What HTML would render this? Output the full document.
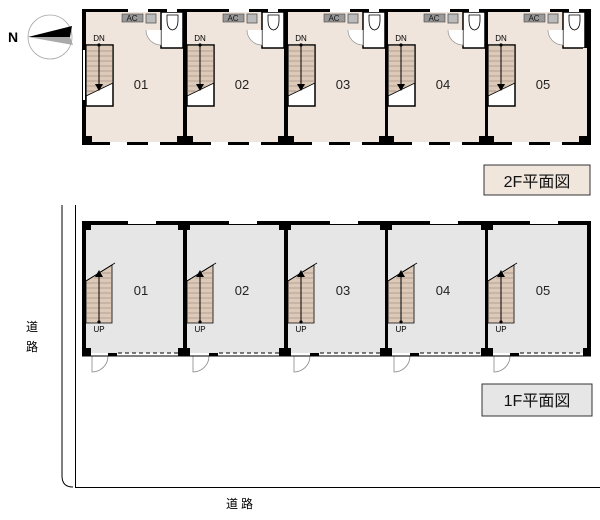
<!DOCTYPE html>
<html><head><meta charset="utf-8"><style>
html,body{margin:0;padding:0;background:#fff;}
svg{display:block;}
text{font-family:"Liberation Sans","Noto Sans CJK JP",sans-serif;}
</style></head><body>
<svg width="600" height="520" viewBox="0 0 600 520" xmlns="http://www.w3.org/2000/svg">
<defs>
<g id="u2">
  <rect x="86" y="12" width="97" height="130" fill="#f0e5dc"/>
  <rect x="161" y="12" width="22" height="36" fill="#fff" stroke="#000" stroke-width="1.5"/>
  <path d="M167 15 h11 v5 q0 9 -5.5 10 q-5.5 -1 -5.5 -10 z" fill="#fff" stroke="#000" stroke-width="0.8"/>
  <rect x="122" y="14" width="21" height="8" fill="#999" stroke="#444" stroke-width="0.6"/>
  <rect x="146" y="14" width="10" height="9" fill="#bbb" stroke="#555" stroke-width="0.8"/>
  <path d="M146 30 A15 15 0 0 0 161 45 L161 30" fill="#fff" stroke="#999" stroke-width="0.8"/>
  <rect x="86" y="45" width="27" height="61" fill="#fff" stroke="#000" stroke-width="1.5"/>
  <path d="M86.7 45.7 H112.3 V83 L86.7 96 Z" fill="#dcc9b8"/>
  <g stroke="#8a7a6c" stroke-width="0.6">
    <line x1="87" y1="51" x2="112" y2="51"/><line x1="87" y1="56" x2="112" y2="56"/>
    <line x1="87" y1="61" x2="112" y2="61"/><line x1="87" y1="66" x2="112" y2="66"/>
    <line x1="87" y1="71" x2="112" y2="71"/><line x1="87" y1="76" x2="112" y2="76"/>
    <line x1="87" y1="81" x2="112" y2="81"/><line x1="87" y1="86" x2="104" y2="86"/>
    <line x1="87" y1="91" x2="94" y2="91"/>
  </g>
  <line x1="86" y1="96" x2="113" y2="83" stroke="#000" stroke-width="0.8"/>
  <line x1="99" y1="45" x2="99" y2="86" stroke="#000" stroke-width="1"/>
  <circle cx="99" cy="45" r="1.6"/>
  <path d="M95 84 L103 84 L99 91 Z"/>
  <rect x="86" y="136" width="6" height="6"/>
  <rect x="177" y="136" width="6" height="6"/>
  <rect x="128" y="9" width="20" height="3" fill="#fff"/>
  <rect x="167" y="9" width="10" height="3" fill="#fff"/>
  <rect x="110" y="142" width="17" height="3" fill="#fff"/>
  <rect x="148" y="142" width="12" height="3" fill="#fff"/>
</g>
<g id="u1">
  <rect x="86" y="225" width="97" height="128" fill="#e6e6e6"/>
  <path d="M86 281 L112 265 V323 H86 Z" fill="#dcc9b8" stroke="#000" stroke-width="0.8"/>
  <line x1="86" y1="281" x2="115" y2="263" stroke="#000" stroke-width="0.8"/>
  <g stroke="#8a7a6c" stroke-width="0.6">
    <line x1="87" y1="283" x2="112" y2="283"/><line x1="87" y1="288" x2="112" y2="288"/>
    <line x1="87" y1="293" x2="112" y2="293"/><line x1="87" y1="298" x2="112" y2="298"/>
    <line x1="87" y1="303" x2="112" y2="303"/><line x1="87" y1="308" x2="112" y2="308"/>
    <line x1="87" y1="313" x2="112" y2="313"/><line x1="87" y1="318" x2="112" y2="318"/>
    <line x1="94" y1="278" x2="112" y2="278"/><line x1="102" y1="273" x2="112" y2="273"/>
  </g>
  <line x1="99" y1="323" x2="99" y2="275" stroke="#000" stroke-width="1"/>
  <circle cx="99" cy="322" r="1.6"/>
  <path d="M95 277 L103 277 L99 270 Z"/>
  <path d="M92 356 V372 A16 16 0 0 0 108 356" fill="none" stroke="#888" stroke-width="0.8"/>
  <rect x="128" y="221" width="28" height="3" fill="#fff"/>
</g>
</defs>

<circle cx="50" cy="37" r="22" fill="#fff" stroke="#aaa" stroke-width="0.8"/>
<path d="M28 37 L72 26 L70 37 Z" fill="#000"/>
<path d="M28 37 L70 37 L73 45 Z" fill="#aaa"/>
<text x="13" y="42" font-size="14" font-weight="bold" text-anchor="middle">N</text>

<rect x="82" y="9" width="509" height="136" fill="#000"/>
<rect x="580" y="50" width="7" height="86" fill="#f0e5dc"/>
<use href="#u2"/>
<use href="#u2" transform="translate(101,0)"/>
<use href="#u2" transform="translate(202,0)"/>
<use href="#u2" transform="translate(302,0)"/>
<use href="#u2" transform="translate(402,0)"/>
<rect x="583" y="48" width="4" height="88" fill="#f0e5dc"/>
<rect x="83" y="50" width="2" height="50" fill="#fff"/>
<g font-size="13" text-anchor="middle" fill="#222">
<text x="141" y="89">01</text><text x="242" y="89">02</text><text x="343" y="89">03</text><text x="443" y="89">04</text><text x="543" y="89">05</text>
</g>
<g font-size="8" text-anchor="middle" fill="#000">
<text x="99" y="41">DN</text><text x="200" y="41">DN</text><text x="301" y="41">DN</text><text x="401" y="41">DN</text><text x="501" y="41">DN</text>
</g>
<g font-size="8" text-anchor="middle" fill="#111">
<text x="132" y="21">AC</text><text x="233" y="21">AC</text><text x="334" y="21">AC</text><text x="434" y="21">AC</text><text x="534" y="21">AC</text>
</g>
<rect x="484" y="165" width="106" height="30" fill="#f0e6dc" stroke="#333" stroke-width="1"/>
<text x="537" y="187" font-size="16" text-anchor="middle" fill="#111">2F平面図</text>

<path d="M62 205 V476 Q62 487 73 487" fill="none" stroke="#000" stroke-width="1"/>
<line x1="75.5" y1="205" x2="75.5" y2="488" stroke="#000" stroke-width="1"/>
<line x1="75" y1="487.5" x2="600" y2="487.5" stroke="#000" stroke-width="1"/>

<rect x="82" y="221" width="509" height="135" fill="#000"/>
<use href="#u1"/>
<use href="#u1" transform="translate(101,0)"/>
<use href="#u1" transform="translate(202,0)"/>
<use href="#u1" transform="translate(302,0)"/>
<use href="#u1" transform="translate(402,0)"/>
<rect x="583" y="225" width="4" height="128" fill="#e6e6e6"/>
<rect x="86" y="353" width="505" height="3" fill="#fff"/>
<g stroke="#000" stroke-width="1" stroke-dasharray="4,3">
<line x1="118" y1="353" x2="183" y2="353"/><line x1="219" y1="353" x2="284" y2="353"/>
<line x1="320" y1="353" x2="385" y2="353"/><line x1="420" y1="353" x2="485" y2="353"/>
<line x1="520" y1="353" x2="586" y2="353"/>
</g>
<line x1="82" y1="356" x2="591" y2="356" stroke="#000" stroke-width="1"/>
<g fill="#000">
<rect x="82" y="221" width="9" height="9"/>
<rect x="178" y="221" width="12" height="9"/><rect x="279" y="221" width="12" height="9"/>
<rect x="380" y="221" width="12" height="9"/><rect x="481" y="221" width="12" height="9"/>
<rect x="82" y="348" width="9" height="8"/>
<rect x="178" y="348" width="12" height="8"/><rect x="279" y="348" width="12" height="8"/>
<rect x="380" y="348" width="12" height="8"/><rect x="481" y="348" width="12" height="8"/>
<rect x="583" y="348" width="8" height="8"/>
<rect x="108" y="353" width="9" height="3"/><rect x="209" y="353" width="9" height="3"/>
<rect x="310" y="353" width="9" height="3"/><rect x="410" y="353" width="9" height="3"/>
<rect x="510" y="353" width="9" height="3"/>
</g>
<g font-size="13" text-anchor="middle" fill="#222">
<text x="141" y="295">01</text><text x="242" y="295">02</text><text x="343" y="295">03</text><text x="443" y="295">04</text><text x="543" y="295">05</text>
</g>
<g font-size="8" text-anchor="middle" fill="#000">
<text x="99" y="332">UP</text><text x="200" y="332">UP</text><text x="301" y="332">UP</text><text x="401" y="332">UP</text><text x="501" y="332">UP</text>
</g>
<rect x="482" y="384" width="110" height="32" fill="#e6e6e6" stroke="#333" stroke-width="1"/>
<text x="537" y="406" font-size="16" text-anchor="middle" fill="#111">1F平面図</text>

<text x="32" y="331" font-size="12" text-anchor="middle">道</text>
<text x="32" y="351" font-size="12" text-anchor="middle">路</text>
<text x="241" y="508" font-size="12" text-anchor="middle" letter-spacing="3">道路</text>
</svg>
</body></html>
